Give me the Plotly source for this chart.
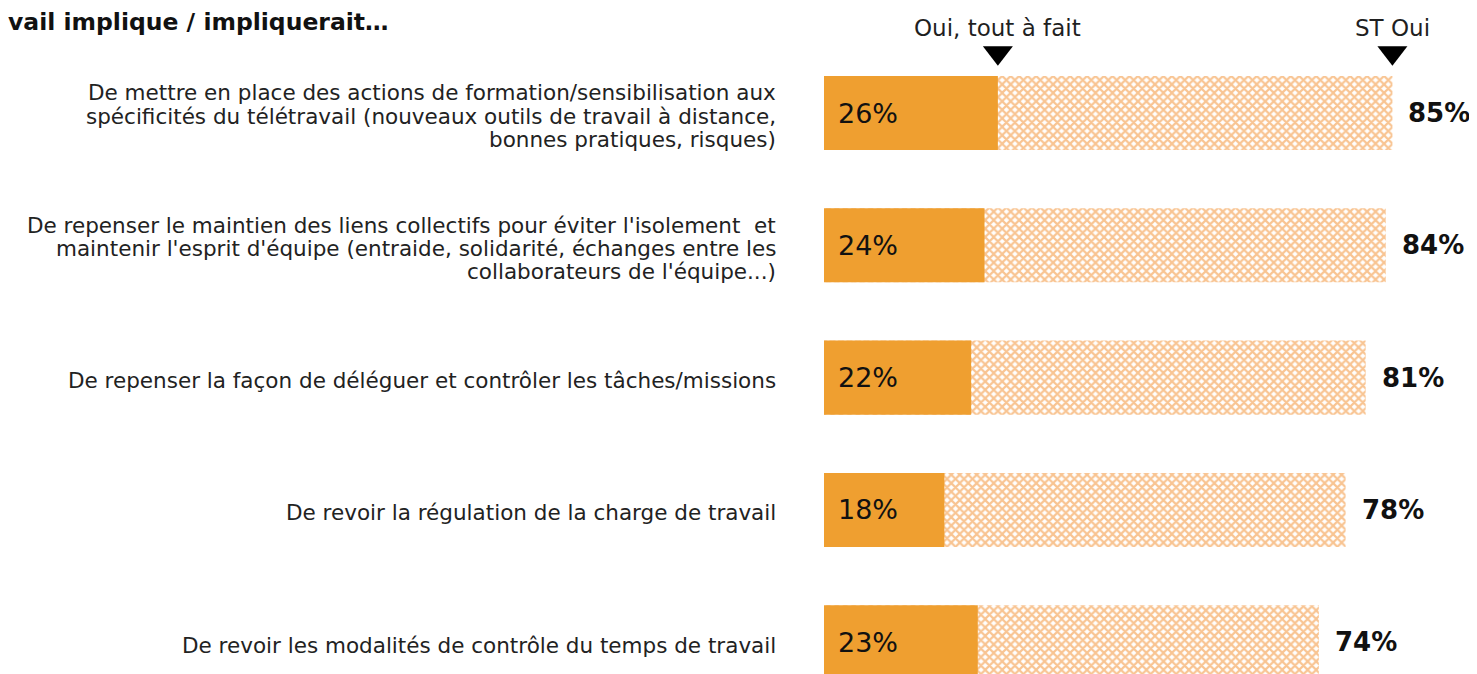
import plotly.graph_objects as go

categories = [
    "De mettre en place des actions de formation/sensibilisation aux<br>spécificités du télétravail (nouveaux outils de travail à distance,<br>bonnes pratiques, risques)",
    "De repenser le maintien des liens collectifs pour éviter l'isolement  et<br>maintenir l'esprit d'équipe (entraide, solidarité, échanges entre les<br>collaborateurs de l'équipe...)",
    "De repenser la façon de déléguer et contrôler les tâches/missions",
    "De revoir la régulation de la charge de travail",
    "De revoir les modalités de contrôle du temps de travail",
]
tout_a_fait = [26, 24, 22, 18, 23]
st_oui = [85, 84, 81, 78, 74]
header_labels = ["Oui, tout à fait", "ST Oui"]
title_text = "vail implique / impliquerait…"

ORANGE = "#EF9F30"
HATCH = "#F28A26"
FONT = "DejaVu Sans"
LINE_H = 23.3

idx = list(range(len(categories)))

fig = go.Figure()
fig.add_trace(go.Bar(
    x=st_oui, y=idx, orientation="h", width=0.56,
    marker=dict(color="white", line=dict(width=0),
                pattern=dict(shape="x", fgcolor=HATCH, bgcolor="white", size=6, solidity=0.6)),
    hoverinfo="skip", showlegend=False,
))
fig.add_trace(go.Bar(
    x=tout_a_fait, y=idx, orientation="h", width=0.56,
    marker=dict(color=ORANGE, line=dict(width=0)),
    hoverinfo="skip", showlegend=False,
))

hdr_x = [tout_a_fait[0], st_oui[0]]
fig.add_trace(go.Scatter(
    x=hdr_x, y=[-0.455, -0.455], mode="markers",
    marker=dict(symbol="triangle-down", size=26, color="black"),
    cliponaxis=False, hoverinfo="skip", showlegend=False,
))

annotations = []
for i, (c, a, t) in enumerate(zip(categories, tout_a_fait, st_oui)):
    lines = c.split("<br>")
    n = len(lines)
    for k, ln in enumerate(lines):
        annotations.append(dict(x=-0.0704, xref="paper", y=i, yref="y", text=ln,
                                yshift=((n - 1) / 2 - k) * LINE_H - 3,
                                xanchor="right", yanchor="middle", align="right", showarrow=False,
                                font=dict(family=FONT, size=21.5, color="#222222")))
    annotations.append(dict(x=0, xref="x", y=i, yref="y", text=f"{a}%", xshift=12,
                            xanchor="left", yanchor="middle", showarrow=False,
                            font=dict(family=FONT, size=27, color="#111111")))
    annotations.append(dict(x=t, xref="x", y=i, yref="y", text=f"<b>{t}%</b>", xshift=14,
                            xanchor="left", yanchor="middle", showarrow=False,
                            font=dict(family=FONT, size=26, color="#111111")))

for hx, hl in zip(hdr_x, header_labels):
    annotations.append(dict(x=hx, xref="x", y=-0.645, yref="y", text=hl,
                            xanchor="center", yanchor="middle", showarrow=False,
                            font=dict(family=FONT, size=23, color="#1f1f1f")))

annotations.append(dict(x=-1.2527, xref="paper", y=-0.69, yref="y", text=f"<b>{title_text}</b>",
                        xanchor="left", yanchor="middle", showarrow=False,
                        font=dict(family=FONT, size=23.5, color="#111111")))

fig.update_layout(
    width=1469, height=666,
    margin=dict(l=816, r=0, t=0, b=0),
    barmode="overlay",
    plot_bgcolor="white", paper_bgcolor="white",
    xaxis=dict(range=[0, 97.65], visible=False, fixedrange=True),
    yaxis=dict(range=[4.240, -0.7937], visible=False, fixedrange=True),
    annotations=annotations,
)

fig.write_html("out.html")
